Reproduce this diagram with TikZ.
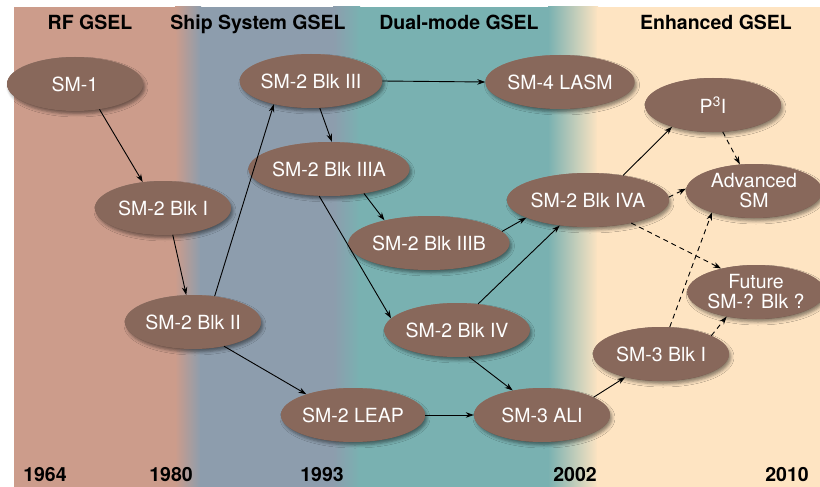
\documentclass[tikz,border=0pt]{standalone}
\usepackage{fontspec}
\setmainfont{TeX Gyre Heros}
\usepackage{tikz}
\usetikzlibrary{positioning,arrows.meta,shapes.geometric,shadows.blur,fadings}

\definecolor{rfband}{HTML}{CC9C8B}
\definecolor{shipband}{HTML}{8D9DAD}
\definecolor{dualband}{HTML}{79B1B1}
\definecolor{enhband}{HTML}{FEE4C2}
\definecolor{missile}{HTML}{88685B}
\definecolor{missiledark}{HTML}{5E463D}
\definecolor{missilelight}{HTML}{A58B80}

\begin{document}
\begin{tikzpicture}[
  x=1pt, y=-1pt,
  every node/.style={font=\fontsize{19.5}{20}\selectfont},
  missilebox/.style={ellipse, top color=missilelight, bottom color=missiledark,
              middle color=missile, minimum width=136pt,
              minimum height=54pt, inner sep=0pt, align=center, text=white,
              path picture={\fill[missile, path fading=circle with fuzzy edge 20 percent]
                (path picture bounding box.center) ellipse [x radius=132pt, y radius=50pt];},
              blur shadow={shadow xshift=2pt, shadow yshift=-3pt,
                           shadow blur radius=3pt, shadow opacity=45}},
  era/.style={anchor=base, font=\bfseries\fontsize{19.5}{20}\selectfont},
  wire/.style={-{Stealth[length=8pt,width=5.5pt]}, line width=0.9pt},
  maybe/.style={wire, dash pattern=on 5pt off 4pt}
]
  \useasboundingbox (0,0) rectangle (820,487);

  % time bands
  \fill[rfband] (14,7) rectangle (176,487);
  \shade[left color=rfband, right color=shipband] (175,7) rectangle (201,487);
  \fill[shipband] (200,7) rectangle (334,487);
  \shade[left color=shipband, right color=dualband] (333,7) rectangle (360,487);
  \fill[dualband] (359,7) rectangle (549,487);
  \shade[left color=dualband, right color=enhband] (548,7) rectangle (598,487);
  \fill[enhband] (597,7) rectangle (820,487);

  \node[era] (rf) at (90,30) {RF GSEL};
  \node[era] (ship) at (258,30) {Ship System GSEL};
  \node[era] (dual) at (459,30) {Dual-mode GSEL};
  \node[era] (enh) at (716,30) {Enhanced GSEL};

  \node[era] (y64) at (45,481) {1964};
  \node[era] (y80) at (171,481) {1980};
  \node[era] (y93) at (322,481) {1993};
  \node[era] (y02) at (575,481) {2002};
  \node[era] (y10) at (787,481) {2010};

  % missiles
  \node[missilebox] (sm1) at (75,84) {SM-1};
  \node[missilebox] (blk1) at (163,208) {SM-2 Blk I};
  \node[missilebox] (blk2) at (193,322) {SM-2 Blk II};
  \node[missilebox] (blk3) at (311,81) {SM-2 Blk III};
  \node[missilebox] (blk3a) at (329,169) {SM-2 Blk IIIA};
  \node[missilebox] (blk3b) at (429,243) {SM-2 Blk IIIB};
  \node[missilebox] (blk4) at (457,330) {SM-2 Blk IV};
  \node[missilebox] (leap) at (353,415) {SM-2 LEAP};
  \node[missilebox] (ali) at (542,415) {SM-3 ALI};
  \node[missilebox] (lasm) at (560,82) {SM-4 LASM};
  \node[missilebox] (blk4a) at (588,200) {SM-2 Blk IVA};
  \node[missilebox] (p3i) at (713,105) {P\textsuperscript{3}I};
  \node[missilebox] (adv) at (754,191) {Advanced\\SM};
  \node[missilebox] (future) at (756,292) {Future\\SM-? Blk ?};
  \node[missilebox] (sm3) at (661,354) {SM-3 Blk I};

  \draw[wire] (sm1.-46) -- (blk1.128);
  \draw[wire] (blk1.-70) -- (blk2.104);
  \draw[wire] (blk2.50) -- (blk3.212);
  \draw[wire] (blk2.-38) -- (leap.156);
  \draw[wire] (blk3.east) -- (lasm.west);
  \draw[wire] (blk3.-72) -- (blk3a.84);
  \draw[wire] (blk3a.-35) -- (blk3b.153);
  \draw[wire] (blk3a.250) -- (blk4.170);
  \draw[wire] (blk3b.9) -- (blk4a.196);
  \draw[wire] (blk4.51) -- (blk4a.222);
  \draw[wire] (blk4.-66) -- (ali.140);
  \draw[wire] (leap.east) -- (ali.west);
  \draw[wire] (ali.19) -- (sm3.213);
  \draw[wire] (blk4a.35) -- (p3i.208);
  \draw[maybe] (p3i.-70) -- (adv.118);
  \draw[maybe] (blk4a.2) -- (adv.178);
  \draw[maybe] (blk4a.-28) -- (future.146);
  \draw[maybe] (sm3.72) -- (adv.207);
  \draw[maybe] (sm3.20) -- (future.220);
\end{tikzpicture}
\end{document}
